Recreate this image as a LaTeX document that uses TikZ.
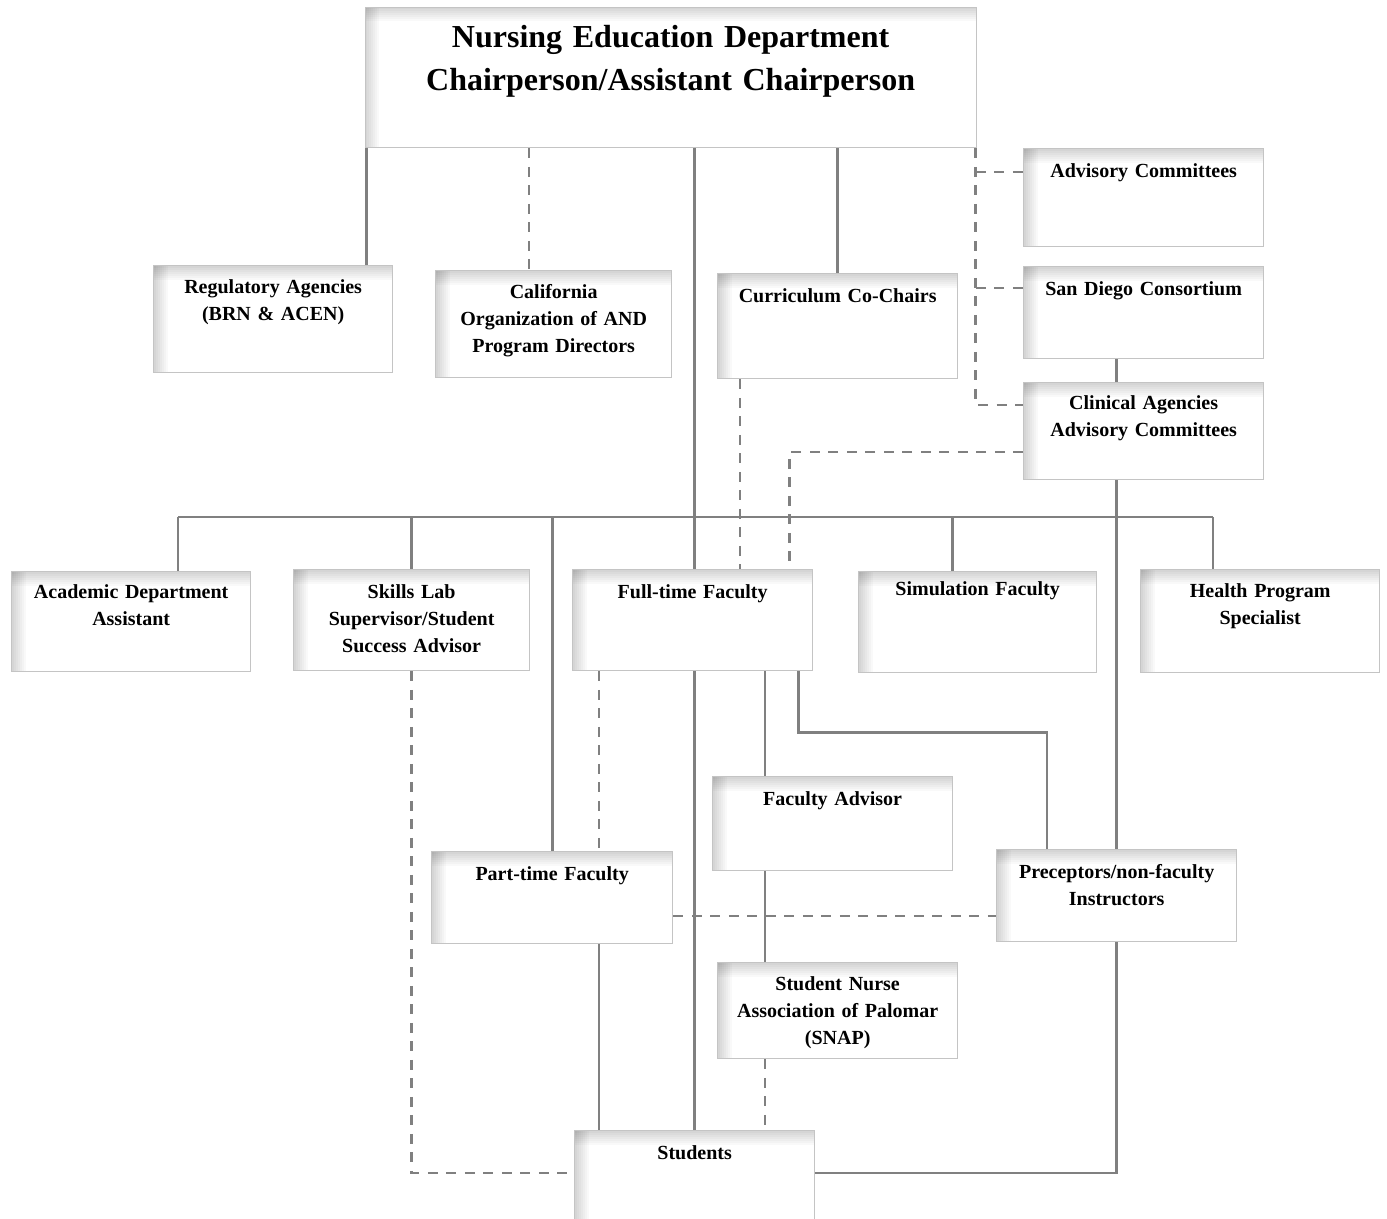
\documentclass[tikz,border=0pt]{standalone}
\usepackage{fontspec}
\setmainfont{Liberation Serif}
\usetikzlibrary{backgrounds}
\definecolor{linegray}{HTML}{808080}
\definecolor{edgegray}{HTML}{C4C4C4}
\begin{document}
\begin{tikzpicture}[x=1bp,y=-1bp,
  orgbox/.style={draw=edgegray, line width=1.3bp, fill=white, inner sep=0pt,
    anchor=north west, align=center,
    font=\fontsize{20bp}{27bp}\selectfont\bfseries,
    path picture={
      \foreach \i in {1,...,7} {
        \pgfmathsetmacro\ds{2*\i}
        \fill[black, opacity=0.025] (path picture bounding box.north west)
          rectangle ([yshift=-\ds bp]path picture bounding box.north east);
        \fill[black, opacity=0.025] (path picture bounding box.north west)
          rectangle ([xshift=\ds bp]path picture bounding box.south west);
      }
    }},
  conn/.style={draw=linegray, line width=2.7bp},
  dconn/.style={conn, dash pattern=on 10bp off 8.5bp}]
\useasboundingbox (0,0) rectangle (1387,1218);
\clip (0,0) rectangle (1387,1218);

% boxes
\node[orgbox, font=\fontsize{32bp}{43bp}\selectfont\bfseries, text width=611bp,
  text height=40bp, text depth=100.5bp] (top) at (364.5,6.5)
  {Nursing Education Department\\Chairperson/Assistant Chairperson};
\node[orgbox, text width=240bp, text height=29bp, text depth=69bp] (adv) at (1023,148) {Advisory Committees};
\node[orgbox, text width=240bp, text height=29bp, text depth=63bp] (sdc) at (1023,266) {San Diego Consortium};
\node[orgbox, text width=240bp, text height=27bp, text depth=70bp] (cla) at (1023,382) {Clinical Agencies\\Advisory Committees};
\node[orgbox, text width=239bp, text height=28bp, text depth=79bp] (reg) at (153,265) {Regulatory Agencies\\(BRN \& ACEN)};
\node[orgbox, text width=236bp, text height=28bp, text depth=79bp] (cal) at (435,270) {California\\Organization of AND\\Program Directors};
\node[orgbox, text width=240bp, text height=29bp, text depth=76bp] (cur) at (717,273) {Curriculum Co-Chairs};
\node[orgbox, text width=239bp, text height=27bp, text depth=73bp] (aca) at (11,571) {Academic Department\\Assistant};
\node[orgbox, text width=236bp, text height=29bp, text depth=72bp] (skl) at (293,569) {Skills Lab\\Supervisor/Student\\Success Advisor};
\node[orgbox, text width=240bp, text height=29bp, text depth=72bp] (ftf) at (572,569) {Full-time Faculty};
\node[orgbox, text width=238bp, text height=24bp, text depth=77bp] (sim) at (858,571) {Simulation Faculty};
\node[orgbox, text width=239bp, text height=28bp, text depth=75bp] (hps) at (1140,569) {Health Program\\Specialist};
\node[orgbox, text width=240bp, text height=29bp, text depth=65bp] (fad) at (712,776) {Faculty Advisor};
\node[orgbox, text width=241bp, text height=29bp, text depth=63bp] (ptf) at (431,851) {Part-time Faculty};
\node[orgbox, text width=240bp, text height=29bp, text depth=63bp] (pre) at (996,849) {Preceptors/non-faculty\\Instructors};
\node[orgbox, text width=240bp, text height=28bp, text depth=68bp] (snap) at (717,962) {Student Nurse\\Association of Palomar\\(SNAP)};
\node[orgbox, text width=240bp, text height=29bp, text depth=71bp] (stu) at (574,1130) {Students};

\begin{scope}[on background layer]
% from chairperson
\coordinate (topA) at ([xshift=2bp]top.south west);
\draw[conn] (topA) -- (topA |- reg.north);
\coordinate (topB) at ([xshift=164.5bp]top.south west);
\draw[dconn] (topB) -- (topB |- cal.north);
\coordinate (topC) at ([xshift=24bp]top.south);
\draw[conn] (topC) -- (topC |- ftf.north);
\draw[conn] (top.south -| cur.north) -- (cur.north);
\coordinate (topD) at ([xshift=-1bp]top.south east);
\coordinate (advin) at ([yshift=-24bp]adv.north west);
\coordinate (sdcin) at ([yshift=-22bp]sdc.north west);
\coordinate (clain) at ([yshift=-23bp]cla.north west);
\draw[dconn] (topD) |- (clain);
\draw[dconn] (topD |- advin) -- (advin);
\draw[dconn] (topD |- sdcin) -- (sdcin);
% right column
\draw[conn] (sdc.south -| pre.north) -- (cla.north -| pre.north);
\draw[conn] (cla.south -| pre.north) -- (pre.north);
\coordinate (stuR) at ([yshift=-43bp]stu.north east);
\coordinate (stuL) at ([yshift=-43bp]stu.north west);
\draw[conn] (pre.south) |- (stuR);
\draw[dconn] (skl.south) |- (stuL);
% bus
\coordinate (busL) at (178,517);
\coordinate (busR) at (1213,517);
\draw[conn] (busL) -- (busR);
\draw[conn] (busL) -- (busL |- aca.north);
\draw[conn] (skl.north |- busL) -- (skl.north);
\draw[conn] (ptf.north |- busL) -- (ptf.north);
\coordinate (simx) at ([xshift=-25bp]sim.north);
\draw[conn] (simx |- busL) -- (simx);
\draw[conn] (busR) -- (busR |- hps.north);
% dashed links into full-time faculty
\coordinate (curd) at ([xshift=23bp]cur.south west);
\draw[dconn] (curd) -- (curd |- ftf.north);
\coordinate (clad) at ([yshift=-70bp]cla.north west);
\coordinate (ftfr) at ([xshift=-24bp]ftf.north east);
\draw[dconn] (clad) -| (ftfr);
% below full-time faculty
\coordinate (ftfd) at ([xshift=27bp]ftf.south west);
\draw[dconn] (ftfd) -- (ftfd |- ptf.north);
\draw[conn] (ptf.south -| ftfd) -- (stu.north -| ftfd);
\draw[conn] (ftf.south -| stu.north) -- (stu.north);
\coordinate (fadx) at ([xshift=53bp]fad.north west);
\draw[conn] (ftf.south -| fadx) -- (fadx);
\draw[conn] (fad.south -| fadx) -- (snap.north -| fadx);
\draw[dconn] (snap.south -| fadx) -- (stu.north -| fadx);
\coordinate (ftfp) at ([xshift=-15bp]ftf.south east);
\coordinate (prex) at ([xshift=51bp]pre.north west);
\draw[conn] (ftfp) -- ++(0,61) -| (prex);
\coordinate (ptfm) at ([yshift=-65bp]ptf.north east);
\draw[dconn] (ptfm) -- (ptfm -| pre.west);
\end{scope}
\end{tikzpicture}
\end{document}
